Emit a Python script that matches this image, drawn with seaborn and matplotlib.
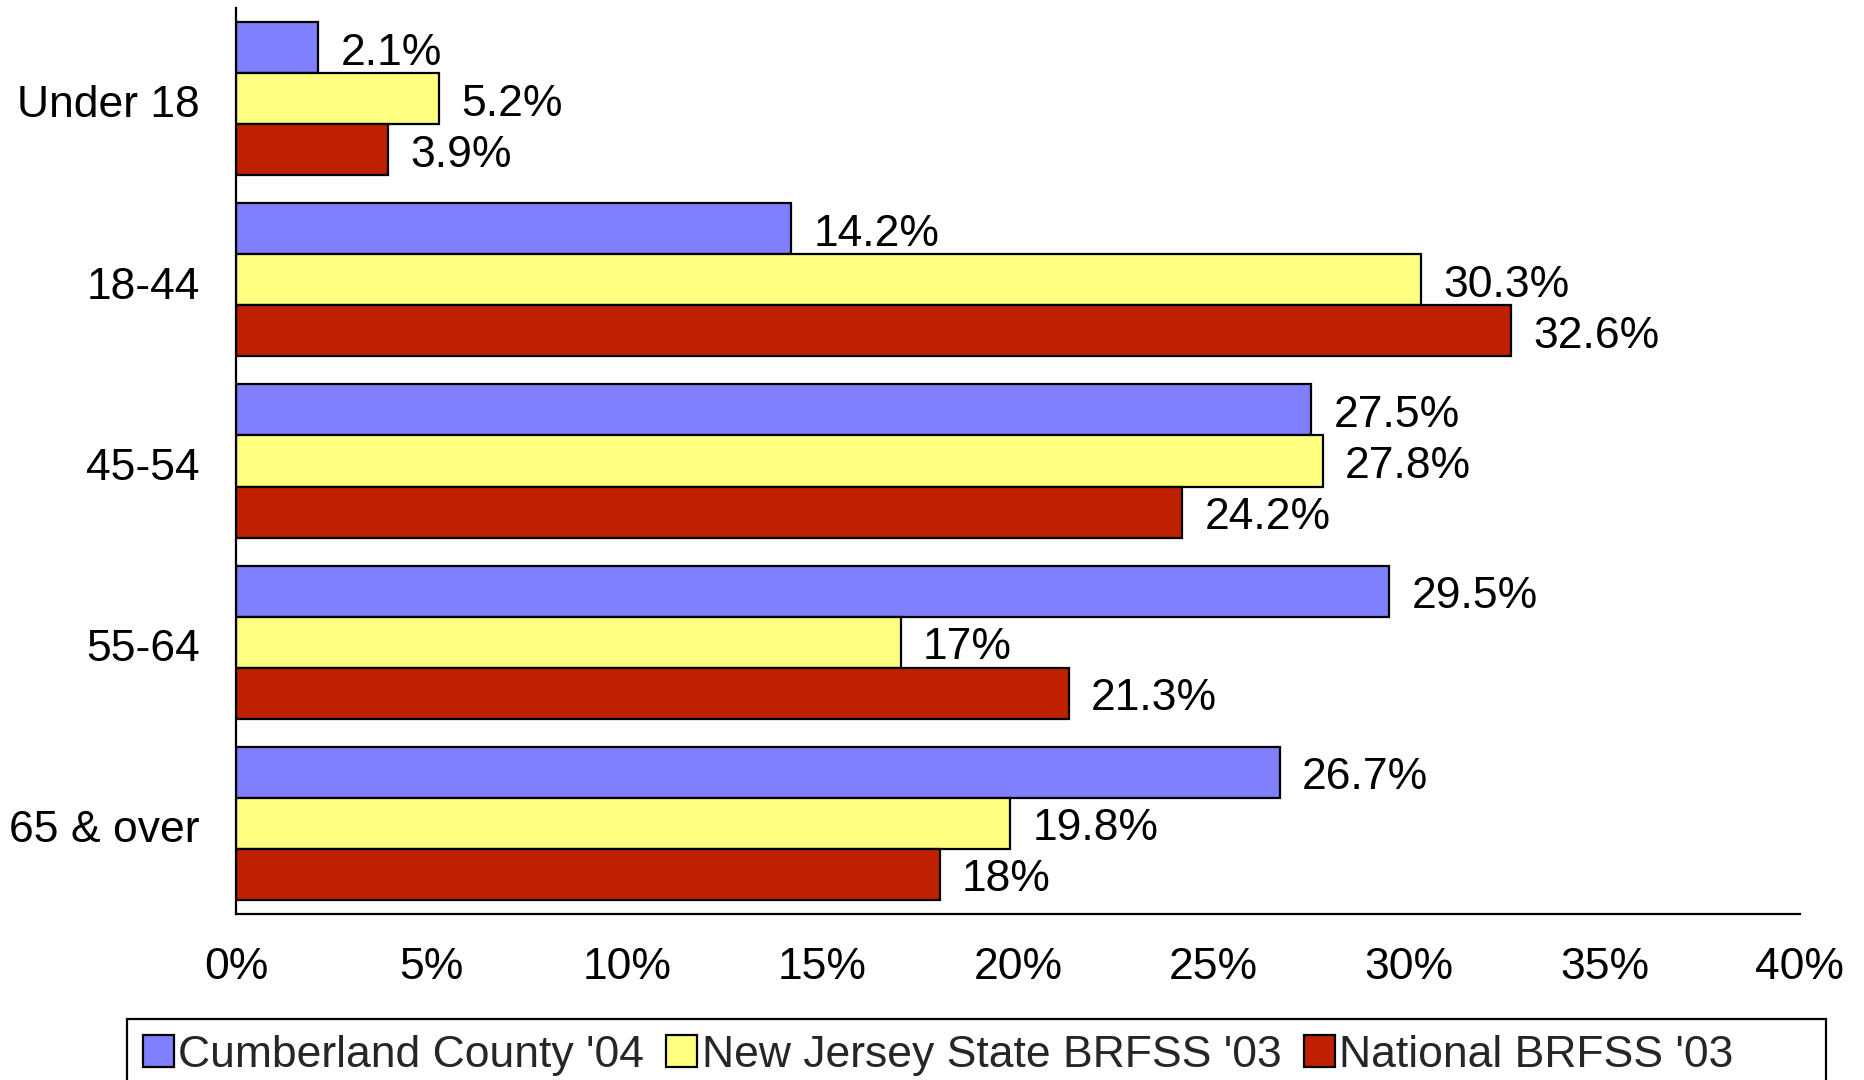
import matplotlib
matplotlib.use("Agg")
import matplotlib.pyplot as plt
import matplotlib.transforms as mtransforms
from matplotlib.patches import Rectangle
import seaborn as sns
import pandas as pd

categories = ["Under 18", "18-44", "45-54", "55-64", "65 & over"]
series_names = ["Cumberland County '04", "New Jersey State BRFSS '03", "National BRFSS '03"]
cumberland = [2.1, 14.2, 27.5, 29.5, 26.7]
new_jersey = [5.2, 30.3, 27.8, 17.0, 19.8]
national = [3.9, 32.6, 24.2, 21.3, 18.0]
x_ticks = [0, 5, 10, 15, 20, 25, 30, 35, 40]
colors = ["#8080FF", "#FFFF80", "#BF2000"]

rows = []
for name, vals in zip(series_names, [cumberland, new_jersey, national]):
    for c, v in zip(categories, vals):
        rows.append({"Age": c, "Value": v, "Series": name})
df = pd.DataFrame(rows)

sns.set_theme(style="white")
plt.rcParams['font.family'] = ['Liberation Sans', 'DejaVu Sans']

fig = plt.figure(figsize=(18.64, 10.8), dpi=100)
ax = fig.add_axes([236/1864, 1 - 914/1080, (1800-236)/1864, (914-8)/1080])

sns.barplot(data=df, y="Age", x="Value", hue="Series", order=categories,
            hue_order=series_names, palette=colors, saturation=1, orient="h", width=0.845,
            edgecolor="black", linewidth=1.6, ax=ax, legend=True)

for cont in ax.containers:
    anns = ax.bar_label(cont, labels=[f"{v:g}%" for v in cont.datavalues],
                        padding=16, fontsize=32, color="black")
    for a in anns:
        a.xyann = (16, -4)

ax.set_xlim(0, 40)
ax.set_xticks(x_ticks)
ax.set_xticklabels([f"{t}%" for t in x_ticks], fontsize=32)
ax.tick_params(axis="both", length=0, labelsize=32, colors="black")
ax.tick_params(axis="x", pad=24)
ax.tick_params(axis="y", pad=26)
off = mtransforms.ScaledTranslation(0, -2/72, fig.dpi_scale_trans)
for lab in ax.get_yticklabels():
    lab.set_transform(lab.get_transform() + off)
ax.set_xlabel("")
ax.set_ylabel("")
for s in ["top", "right"]:
    ax.spines[s].set_visible(False)
for s in ["left", "bottom"]:
    ax.spines[s].set_visible(True)
    ax.spines[s].set_color("black")
    ax.spines[s].set_linewidth(1.6)

handles, labels = ax.get_legend_handles_labels()
ax.get_legend().remove()
leg = fig.legend(handles, labels, loc="upper left", bbox_to_anchor=(127/1864, 1 - 1019/1080),
                 ncol=3, fontsize=32, frameon=False,
                 handlelength=0.7, handleheight=0.7, handletextpad=0.1,
                 columnspacing=0.5, borderpad=0.35, borderaxespad=0)
for h in leg.legend_handles:
    h.set_edgecolor("black")
    h.set_linewidth(1.6)
fig.patches.append(Rectangle((127/1864, -0.02), (1826-127)/1864, 1 - 1019/1080 + 0.02,
                             transform=fig.transFigure, fill=False, edgecolor="black",
                             linewidth=1.6, clip_on=False))

fig.savefig("out.png", dpi=100)
